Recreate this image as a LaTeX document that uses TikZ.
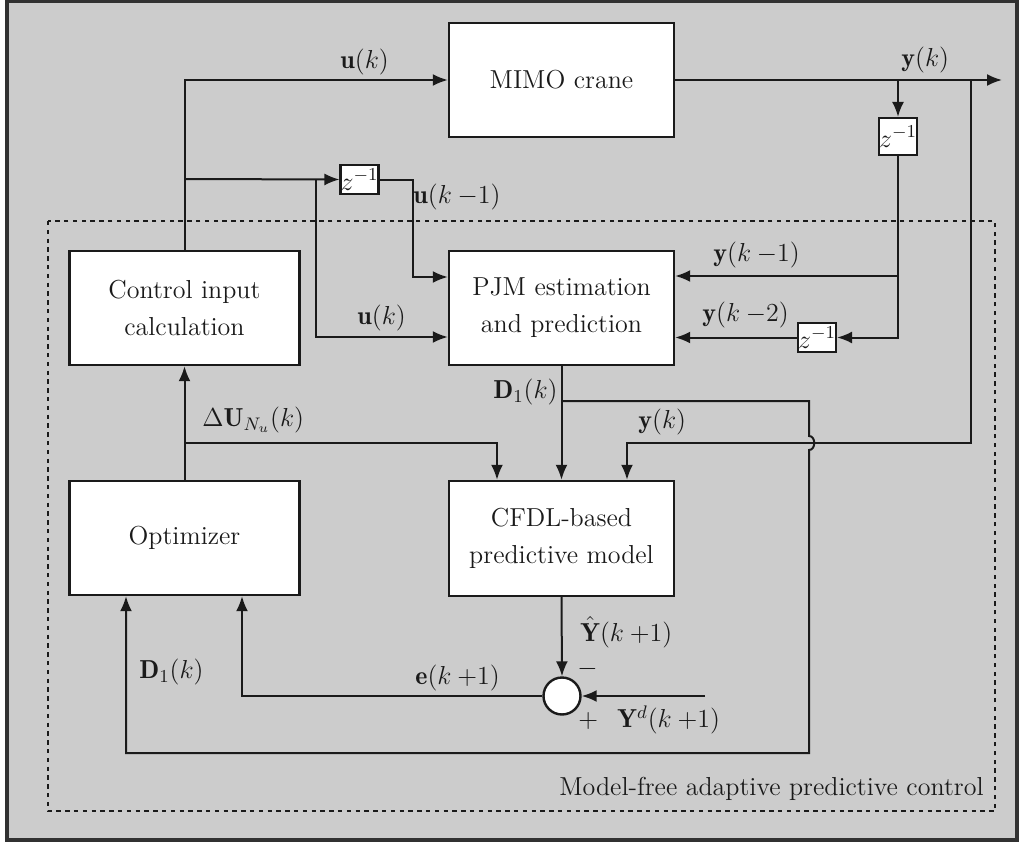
\RequirePackage{fix-cm}
\documentclass[tikz,border=0pt]{standalone}
\usepackage{amsmath}
\usepackage{fontspec}
\usetikzlibrary{arrows.meta,calc}
\definecolor{panel}{HTML}{CCCCCC}
\definecolor{ink}{HTML}{1A1A1A}
% shift of a discrete time index, set tight as k -1
\newcommand{\kshift}[2]{k\mskip4mu{#1}#2}
\begin{document}
\begin{tikzpicture}[x=0.5pt,y=-0.5pt,
  every node/.style={font=\fontsize{13}{15.5}\selectfont, text=ink},
  block/.style={draw=ink, fill=white, line width=1.2pt, align=center, inner sep=0pt},
  delay/.style={draw=ink, fill=white, line width=1.1pt, inner sep=0pt},
  sumnode/.style={circle, draw=ink, fill=white, line width=1.2pt, minimum size=18.5pt, inner sep=0pt},
  wire/.style={draw=ink, line width=1pt},
  arr/.style={wire, -{Latex[length=7.5pt,width=6pt]}},
  lbl/.style={inner sep=0pt, anchor=west}
]
% page and panel
\useasboundingbox (0,0) rectangle (1024,846);
\fill[white] (0,0) rectangle (1024,846);
\draw[fill=panel, draw=ink!90, line width=1.6pt] (7,1) rectangle (1017,840);

% dotted frame of the controller
\draw[ink, line width=1.1pt, dash pattern=on 2.2pt off 2.2pt] (48,221) rectangle (995,811);
\node[inner sep=0pt, anchor=east] (mfapc) at (984,789) {Model-free adaptive predictive control};

% blocks
\node[block, minimum width=112.5pt, minimum height=57pt] (mimo) at (561.5,80) {MIMO crane};
\node[block, minimum width=115pt, minimum height=57pt] (ctrl) at (184.5,308) {Control input\\[3pt]calculation};
\node[block, minimum width=112.5pt, minimum height=57pt] (pjm) at (561.5,308) {PJM estimation\\[3pt]and prediction};
\node[block, minimum width=115pt, minimum height=57pt] (opt) at (184.5,538) {Optimizer};
\node[block, minimum width=112.5pt, minimum height=57.5pt] (cfdl) at (561.5,538.5) {CFDL-based\\[3pt]predictive model};
\node[sumnode] (sum) at (562,696) {};

% unit delays
\node[delay, minimum width=18.5pt, minimum height=14.5pt] (zu) at (359.5,179.5) {$z^{-1}$};
\node[delay, minimum width=15pt, minimum height=18.5pt] (zy1) at (898,136.5) {$z^{-1}$};
\node[delay, minimum width=19pt, minimum height=14.5pt] (zy2) at (817,337.5) {$z^{-1}$};

% branch points and corners
\coordinate (ju) at (184.5,179);
\coordinate (uk1) at (413,277);
\coordinate (ukb) at (316,179);
\coordinate (ukt) at (316,337);
\coordinate (yout) at (1002,80);
\coordinate (yb1) at (898,80);
\coordinate (ykm1) at (898,276);
\coordinate (yb2) at (971,80);
\coordinate (ykt) at (627,443);
\coordinate (dj) at (561.5,401);
\coordinate (dtop) at (809,401);
\coordinate (dj1) at (809,436);
\coordinate (dj2) at (809,450);
\coordinate (dbot) at (809,753);
\coordinate (dleft) at (126,753);
\coordinate (du) at (184.5,443);
\coordinate (dut) at (497,443);
\coordinate (yd) at (705,696);
\coordinate (eb) at (242,696);

% control signal u(k)
\draw[arr] (ctrl.north) |- (mimo.west);
\draw[arr] (ju) -- (zu.west);
\draw[arr] (zu.east) -| (uk1) -- (pjm.west |- uk1);
\draw[arr] (ukb) -- (ukt) -- (pjm.west |- ukt);

% plant output y(k)
\draw[arr] (mimo.east) -- (yout);
\draw[arr] (yb1) -- (zy1.north);
\draw[arr] (zy1.south) |- (zy2.east);
\draw[arr] (ykm1) -- (pjm.east |- ykm1);
\draw[arr] (zy2.west) -- (pjm.east |- zy2.west);
\draw[arr] (yb2) |- (ykt) -- (ykt |- cfdl.north);

% PJM estimate D1(k), hopping over the y(k) wire
\draw[arr] (pjm.south) -- (cfdl.north);
\draw[arr] (dj) -- (dtop) -- (dj1) .. controls (816,436) and (816,450) .. (dj2)
  -- (dbot) -- (dleft) -- (dleft |- opt.south);

% optimizer output
\draw[arr] (opt.north) -- (ctrl.south);
\draw[arr] (du) -- (dut) -- (dut |- cfdl.north);

% prediction error
\draw[arr] (cfdl.south) -- (sum.north);
\draw[arr] (yd) -- (sum.east);
\draw[arr] (sum.west) -- (eb) -- (eb |- opt.south);

% signal labels
\node[lbl] (l-u) at (340,62) {$\mathbf{u}(k)$};
\node[lbl] (l-y) at (901,60) {$\mathbf{y}(k)$};
\node[lbl] (l-u1) at (413,197) {$\mathbf{u}(\kshift{-}{1})$};
\node[lbl] (l-u2) at (357,318) {$\mathbf{u}(k)$};
\node[lbl] (l-y1) at (713,255) {$\mathbf{y}(\kshift{-}{1})$};
\node[lbl] (l-y2) at (702,315) {$\mathbf{y}(\kshift{-}{2})$};
\node[lbl] (l-d1) at (493,392) {$\mathbf{D}_1(k)$};
\node[lbl] (l-y3) at (638,422) {$\mathbf{y}(k)$};
\node[lbl] (l-du) at (202,420) {$\Delta\mathbf{U}_{N_u}(k)$};
\node[lbl] (l-yh) at (580,632) {$\hat{\mathbf{Y}}(\kshift{+}{1})$};
\node[lbl] (l-minus) at (577,669) {$-$};
\node[lbl] (l-plus) at (578,721) {$+$};
\node[lbl] (l-yd) at (617,720) {$\mathbf{Y}^{d}(\kshift{+}{1})$};
\node[lbl] (l-e) at (415,678) {$\mathbf{e}(\kshift{+}{1})$};
\node[lbl] (l-d2) at (139,672) {$\mathbf{D}_1(k)$};
\end{tikzpicture}
\end{document}
